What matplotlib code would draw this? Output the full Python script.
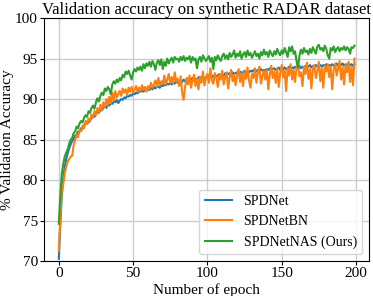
import matplotlib
matplotlib.use('Agg')
import matplotlib.pyplot as plt
import numpy as np

plt.rcParams['font.family'] = ['Liberation Serif', 'DejaVu Serif']

epochs = np.arange(0, 200)

spdnet = [
    70.3, 74.5, 78.0, 80.2, 81.6, 82.6, 83.3, 83.9, 84.4, 84.8, 85.1, 85.5, 85.6, 86.0, 86.1, 86.4, 86.3, 86.8, 86.9, 87.2,
    87.1, 87.5, 87.6, 87.9, 87.8, 88.2, 88.4, 88.3, 88.7, 88.6, 88.9, 89.1, 88.9, 89.3, 89.2, 89.5, 89.4, 89.7, 89.6, 89.9,
    89.5, 89.8, 90.0, 89.9, 90.2, 90.1, 90.4, 90.3, 90.5, 90.4, 90.7, 90.6, 90.8, 90.7, 91.0, 90.9, 91.1, 90.9, 91.2, 91.1,
    91.3, 91.1, 91.4, 91.2, 91.5, 91.3, 91.6, 91.5, 91.4, 91.7, 91.6, 91.8, 91.7, 91.9, 91.8, 92.0, 91.8, 92.1, 91.9, 92.2,
    92.0, 92.1, 92.3, 92.1, 92.4, 92.2, 92.3, 92.5, 92.2, 92.4, 92.6, 92.3, 92.5, 92.4, 92.7, 92.5, 92.6, 92.8, 92.5, 92.7,
    92.6, 92.8, 92.7, 92.9, 92.7, 93.0, 92.8, 92.9, 93.1, 92.8, 93.0, 92.9, 93.2, 93.0, 93.1, 93.2, 92.9, 93.3, 93.1, 93.2,
    93.3, 93.1, 93.4, 93.2, 93.3, 93.5, 93.2, 93.4, 93.3, 93.5, 93.4, 93.6, 93.3, 93.5, 93.6, 93.4, 93.7, 93.5, 93.6, 93.5,
    93.7, 93.6, 93.8, 93.5, 93.7, 93.8, 93.6, 93.7, 93.9, 93.6, 93.8, 93.7, 93.9, 93.7, 93.8, 94.0, 93.7, 93.9, 93.8, 94.0,
    93.8, 93.9, 94.1, 93.8, 94.0, 93.9, 94.1, 93.9, 94.0, 94.2, 93.9, 94.1, 94.0, 94.2, 94.0, 94.1, 94.2, 94.0, 94.2, 94.1,
    94.3, 94.0, 94.2, 94.1, 94.3, 94.1, 94.2, 94.4, 94.1, 94.3, 94.2, 94.4, 94.1, 94.3, 94.2, 94.4, 94.2, 94.3, 94.1, 94.3,
]

spdnetbn = [
    71.2, 75.2, 78.5, 79.5, 80.8, 81.7, 82.3, 82.6, 82.9, 83.0, 84.3, 84.9, 85.6, 85.3, 86.2, 86.0, 86.7, 86.4, 87.3, 86.9,
    87.6, 87.2, 88.1, 87.7, 88.5, 88.0, 88.9, 88.4, 89.3, 88.6, 89.6, 89.0, 90.0, 89.3, 90.3, 89.5, 90.8, 89.8, 91.0, 90.2,
    90.6, 91.0, 90.4, 91.3, 90.8, 91.2, 90.5, 91.4, 90.9, 91.5, 90.8, 91.2, 91.6, 90.9, 91.4, 91.0, 91.7, 91.1, 91.5, 90.9,
    91.6, 91.2, 92.0, 91.4, 91.8, 92.3, 91.5, 92.6, 91.7, 92.2, 91.9, 92.9, 91.8, 92.4, 93.1, 92.0, 92.7, 91.9, 93.3, 92.2,
    92.5, 91.6, 92.8, 90.8, 89.9, 91.5, 92.6, 91.8, 92.9, 91.4, 92.3, 93.0, 91.6, 92.5, 91.2, 92.8, 92.0, 93.4, 91.7, 92.6,
    93.1, 92.0, 93.8, 92.3, 91.9, 93.2, 92.6, 91.5, 93.0, 92.4, 93.5, 91.8, 92.8, 93.3, 91.3, 92.7, 93.6, 92.2, 93.0, 91.7,
    92.9, 93.7, 92.1, 93.2, 91.6, 93.4, 92.5, 93.9, 92.3, 91.4, 93.1, 92.6, 93.8, 92.0, 93.3, 94.0, 91.9, 92.8, 93.5, 92.4,
    93.6, 91.2, 93.0, 94.1, 92.6, 93.4, 92.0, 93.7, 91.5, 93.2, 94.2, 92.7, 93.5, 91.0, 93.8, 92.9, 94.3, 92.4, 93.6, 92.1,
    93.9, 94.4, 92.8, 93.3, 91.6, 94.0, 93.1, 94.5, 92.5, 93.7, 91.3, 93.9, 94.2, 92.6, 93.5, 94.6, 92.2, 93.8, 91.4, 94.1,
    93.4, 94.3, 92.7, 94.0, 91.2, 93.6, 94.4, 92.9, 93.8, 94.7, 92.4, 93.9, 91.8, 94.2, 93.3, 94.6, 92.1, 94.0, 91.7, 95.0,
]

spdnetnas = [
    74.6, 78.0, 80.7, 82.0, 82.9, 83.4, 83.8, 84.5, 85.0, 85.2, 85.8, 86.0, 86.6, 86.4, 87.0, 87.3, 87.1, 87.7, 88.0, 87.8,
    88.5, 88.3, 88.9, 89.2, 88.8, 89.6, 90.1, 89.7, 90.4, 90.8, 90.5, 91.3, 91.0, 91.5, 91.2, 90.6, 91.8, 92.2, 91.9, 92.4,
    92.1, 92.6, 92.3, 93.0, 92.7, 93.4, 93.1, 93.5, 92.9, 92.4, 93.3, 93.7, 93.4, 93.9, 93.6, 94.0, 93.5, 94.3, 93.8, 94.4,
    94.1, 94.6, 94.0, 94.7, 94.3, 93.6, 94.5, 94.8, 94.2, 94.9, 93.7, 94.6, 94.1, 95.0, 94.4, 94.8, 95.1, 94.5, 95.2, 94.9,
    95.0, 94.6, 95.2, 94.8, 95.3, 94.7, 95.1, 94.9, 95.3, 94.5, 95.2, 94.8, 95.0, 93.8, 94.9, 95.2, 94.6, 95.4, 95.0, 94.7,
    95.0, 95.3, 94.6, 95.1, 93.7, 95.2, 94.8, 95.4, 95.0, 94.7, 95.3, 95.6, 95.0, 95.4, 94.9, 95.7, 95.2, 95.5, 96.0, 95.1,
    95.6, 95.3, 95.9, 95.0, 95.5, 95.8, 95.2, 96.0, 95.4, 95.7, 95.1, 95.5, 95.9, 95.3, 95.6, 95.0, 95.8, 95.4, 96.1, 95.5,
    95.8, 95.2, 96.0, 95.6, 95.3, 95.9, 95.5, 96.2, 95.7, 95.4, 96.0, 95.6, 96.3, 95.8, 95.2, 96.4, 95.9, 96.5, 95.6, 95.9,
    94.7, 93.9, 95.4, 96.1, 95.6, 96.3, 95.8, 96.0, 95.5, 96.2, 95.7, 96.4, 96.0, 95.6, 96.5, 96.7, 96.1, 96.3, 95.9, 96.6,
    96.2, 95.4, 95.0, 96.3, 96.0, 96.5, 95.8, 96.2, 96.4, 95.9, 96.3, 96.1, 96.5, 96.0, 96.4, 96.2, 95.6, 96.4, 96.3, 96.6,
]

fig = plt.figure(figsize=(3.73, 2.96), dpi=100)
ax = fig.add_subplot()
fig.subplots_adjust(left=0.118, right=0.99, top=0.939, bottom=0.118)

ax.plot(epochs, spdnet, color='tab:blue', lw=1.5, label='SPDNet')
ax.plot(epochs, spdnetbn, color='tab:orange', lw=1.5, label='SPDNetBN')
ax.plot(epochs, spdnetnas, color='tab:green', lw=1.5, label='SPDNetNAS (Ours)')

ax.set_ylim(70, 100)
ax.set_xticks([0, 50, 100, 150, 200])
ax.set_yticks([70, 75, 80, 85, 90, 95, 100])
ax.tick_params(labelsize=11, length=3, pad=1.5)
ax.grid(True, color='#cccccc', lw=1)
ax.set_axisbelow(True)

ax.set_title('Validation accuracy on synthetic RADAR dataset', fontsize=12, pad=3)
ax.set_xlabel('Number of epoch', fontsize=11)
ax.set_ylabel('% Validation Accuracy', fontsize=11)
ax.xaxis.set_label_coords(0.5, -0.092)
ax.yaxis.set_label_coords(-0.092, 0.5)
ax.legend(loc='lower right', fontsize=10)

fig.savefig('out.png', dpi=100)
